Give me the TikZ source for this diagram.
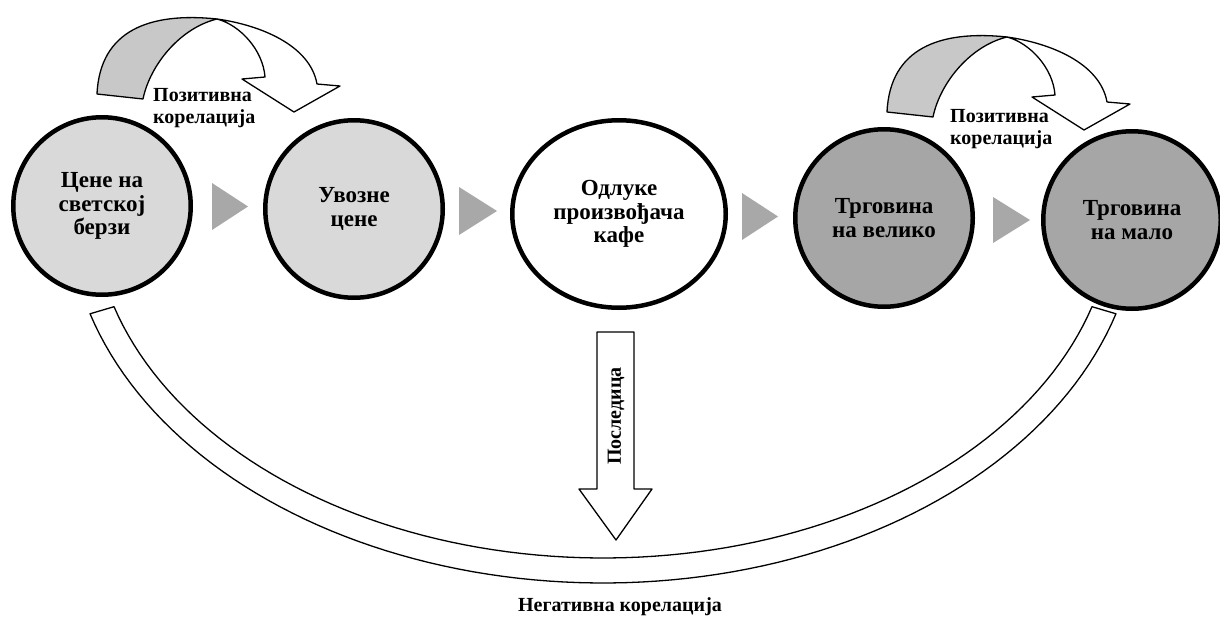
\documentclass[tikz,border=0pt]{standalone}
\usepackage{fontspec}
\setmainfont{Liberation Serif}
\usetikzlibrary{shapes.geometric}
\definecolor{lightg}{HTML}{D9D9D9}
\definecolor{darkg}{HTML}{A6A6A6}
\definecolor{trig}{HTML}{A8A8A8}
\definecolor{arrg}{HTML}{C8C8C8}
\begin{document}
\begin{tikzpicture}[x=1pt,y=-1pt,
  bubble/.style={circle, draw=black, line width=4.5pt, minimum size=177.5pt, inner sep=0pt, align=center, font=\fontsize{23}{23.5}\selectfont\bfseries},
  oval/.style={ellipse, draw=black, line width=4.5pt, minimum width=213.5pt, minimum height=187.5pt, inner sep=0pt, align=center, font=\fontsize{23}{23.5}\selectfont\bfseries},
  smalltxt/.style={font=\fontsize{20}{22}\selectfont\bfseries, inner sep=0pt},
  thinline/.style={draw=black, line width=1.3pt, line join=round},
  flowtri/.style={fill=trig},
  posarrow/.pic={
    \path[thinline, fill=arrg] (97,94) .. controls (100,30) and (150,12) .. (217,19)
      .. controls (180,28) and (150,65) .. (143,99) -- cycle;
    \path[thinline, fill=white] (217,19) .. controls (260,25) and (310,45) .. (317,84)
      -- (340,86) -- (294,112) -- (242,79) -- (265,77)
      .. controls (263,50) and (240,25) .. (217,19) -- cycle;
  }]
\useasboundingbox (0,0) rectangle (1220,616);
\fill[white] (0,0) rectangle (1220,616);

% bottom band (negative correlation)
\path[thinline, fill=white]
  plot[domain=163.5:16.5, samples=90] ({603+535*cos(\x)},{207+376*sin(\x)})
  -- plot[domain=16.5:163.5, samples=90] ({603+510*cos(\x)},{207+351*sin(\x)})
  -- cycle;

% curved positive-correlation arrows
\pic at (0,0) {posarrow};
\pic at (790,18) {posarrow};

% circles
\node[bubble, fill=lightg] (c1) at (102,206) {Цене на\\светској\\берзи};
\node[bubble, fill=lightg] (c2) at (354,209) {Увозне\\цене};
\node[oval, fill=white] (c3) at (619,214) {Одлуке\\произвођача\\кафе};
\node[bubble, fill=darkg] (c4) at (884,218) {Трговина\\на велико};
\node[bubble, fill=darkg] (c5) at (1132,220) {Трговина\\на мало};

% grey triangles
\path[flowtri] (212,183) -- (248,206.5) -- (212,230) -- cycle;
\path[flowtri] (459,187) -- (497,211) -- (459,235) -- cycle;
\path[flowtri] (742,193) -- (778,216.5) -- (742,240) -- cycle;
\path[flowtri] (993,197) -- (1030,220) -- (993,243) -- cycle;

% labels
\node[smalltxt, anchor=west, align=left] (pk1) at (153,108.5) {Позитивна\\корелација};
\node[smalltxt, anchor=west, align=left] (pk2) at (950,129.5) {Позитивна\\корелација};

% down arrow
\path[thinline, fill=white] (597,332) -- (634,332) -- (634,489) -- (652,489)
  -- (616,540) -- (579,489) -- (597,489) -- cycle;
\node[smalltxt, rotate=90] (cons) at (616,416) {Последица};

\node[smalltxt, anchor=base] (neg) at (620,611) {Негативна корелација};
\end{tikzpicture}
\end{document}
